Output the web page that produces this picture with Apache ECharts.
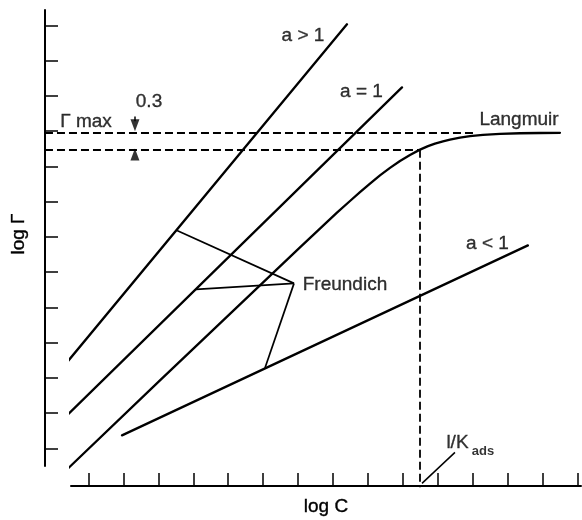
<!DOCTYPE html>
<html><head><meta charset="utf-8">
<script src="https://cdn.jsdelivr.net/npm/echarts@6/dist/echarts.min.js"></script>
<style>html,body{margin:0;padding:0;background:#fff}#c{width:582px;height:520px}</style>
</head><body><div id="c"></div>
<script>
// ---- data (arbitrary log units, one tick = 1) ----
const xTicks = [0,1,2,3,4,5,6,7,8,9,10,11,12,13,14];
const yTicks = [0,1,2,3,4,5,6,7,8,9,10,11,12];
const lineAGreater1 = [[-0.616, 2.44], [7.40, 12.03]];
const lineAEqual1   = [[-0.673, 0.88], [8.975, 10.24]];
const lineALess1    = [[0.959, 0.369], [12.58, 5.759]];
const langmuir = [
  [-0.673, -0.652], [2.047, 1.929], [4.910, 4.624], [6.055, 5.702],
  [6.627, 6.233], [7.114, 6.687], [7.487, 7.018], [7.773, 7.268],
  [8.060, 7.512], [8.345, 7.745], [8.632, 7.957], [8.918, 8.153],
  [9.204, 8.323], [9.476, 8.468], [9.720, 8.573], [9.920, 8.647],
  [10.149, 8.709], [10.349, 8.757], [10.635, 8.814], [10.922, 8.857],
  [11.294, 8.894], [11.781, 8.922], [12.353, 8.939], [12.926, 8.947],
  [13.498, 8.953]
];
const freundichPoint = [5.884, 4.681];
const freundichFeet  = [[2.534, 6.18], [3.078, 4.511], [5.053, 2.28]];
const gammaMax = 8.965;       // log Γmax
const gammaHalf = 8.468;      // log Γmax - 0.3
const logInvK = 9.476;        // log(1/Kads)
const dashStartX = -1.245;
const gammaMaxDashEndX = 11.09;
const axisBaseY = -1.1;
const arrowX = 1.331;
const arrowDown = [arrowX, 9.163];
const arrowUp = [arrowX, 8.340];
const arrowStem = [[arrowX, 9.418], [arrowX, 9.277]];
const kLeader = [[10.492, -0.113], [9.548, -0.993]];
const textLabels = [
  [6.141, 11.716, 'a > 1'],
  [7.816, 10.108, 'a = 1'],
  [12.325, 9.322, 'Langmuir'],
  [11.423, 5.801, 'a < 1'],
  [7.343, 4.652, 'Freundich'],
  [1.733, 9.824, '0.3'],
  [-0.072, 9.257, 'Γ max'],
  [10.564, 0.150, 'l/K']
];
const subLabels = [[11.294, -0.079, 'ads']];

// ---- chart ----
const ink = '#000';
const font = "'Liberation Sans', Arial, Helvetica, sans-serif";
const chart = echarts.init(document.getElementById('c'), null, {renderer: 'canvas'});

function solid(name, data, w) {
  return {name, type: 'line', data, symbol: 'none', clip: false, silent: true,
    smooth: false, lineStyle: {color: ink, width: w, join: 'round', cap: 'round'}, z: 3};
}
function segs(data, w, type) {
  return {type: 'lines', coordinateSystem: 'cartesian2d', clip: false, silent: true,
    data: data.map(c => ({coords: c})),
    lineStyle: {color: ink, width: w, type: type || 'solid', opacity: 1}, z: 2};
}
const textStyle = {fontSize: 19, fontFamily: font, color: ink, textBorderColor: ink, textBorderWidth: 0.35};

const option = {
  backgroundColor: '#fff',
  animation: false,
  grid: {left: 71, right: 1, top: 10, bottom: 54, containLabel: false, outerBoundsMode: 'none'},
  xAxis: {
    type: 'value', min: -0.5, max: 14.1, offset: 20, position: 'bottom',
    name: 'log C', nameLocation: 'middle', nameGap: 11,
    nameTextStyle: textStyle,
    axisLine: {show: true, onZero: false, lineStyle: {color: ink, width: 2}},
    axisTick: {show: true, inside: true, length: 13, customValues: xTicks, lineStyle: {color: ink, width: 1.5}},
    axisLabel: {show: false}, splitLine: {show: false}
  },
  yAxis: {
    type: 'value', min: -0.5, max: 12.436, offset: 26, position: 'left',
    name: 'log Γ', nameLocation: 'middle', nameGap: 17, nameRotate: 90,
    nameTextStyle: Object.assign({padding: [0, 0, 0, 8]}, textStyle),
    axisLine: {show: true, onZero: false, lineStyle: {color: ink, width: 2}},
    axisTick: {show: true, inside: true, length: 13, customValues: yTicks, lineStyle: {color: ink, width: 1.5}},
    axisLabel: {show: false}, splitLine: {show: false}
  },
  series: [
    solid('a > 1', lineAGreater1, 2.3),
    solid('a = 1', lineAEqual1, 2.3),
    solid('Langmuir', langmuir, 2.3),
    solid('a < 1', lineALess1, 2.3),
    segs(freundichFeet.map(p => [p, freundichPoint]), 1.7),
    segs([[[dashStartX, gammaMax], [gammaMaxDashEndX, gammaMax]],
          [[dashStartX, gammaHalf], [logInvK, gammaHalf]],
          [[logInvK, gammaHalf], [logInvK, axisBaseY]]], 1.8, [8, 4]),
    segs([arrowStem, kLeader], 1.5),
    {type: 'scatter', clip: false, silent: true, symbol: 'triangle', symbolSize: [9, 12],
      data: [{value: arrowDown, symbolRotate: 180}, {value: arrowUp}],
      itemStyle: {color: ink}, z: 4},
    {type: 'scatter', clip: false, silent: true, symbolSize: 0,
      data: textLabels,
      label: Object.assign({show: true, position: 'inside', formatter: p => p.data[2]}, textStyle), z: 5},
    {type: 'scatter', clip: false, silent: true, symbolSize: 0,
      data: subLabels,
      label: {show: true, position: 'inside', formatter: p => p.data[2],
        fontSize: 13, fontWeight: 'bold', fontFamily: font, color: ink}, z: 5}
  ]
};
chart.setOption(option);
</script>
</body></html>
